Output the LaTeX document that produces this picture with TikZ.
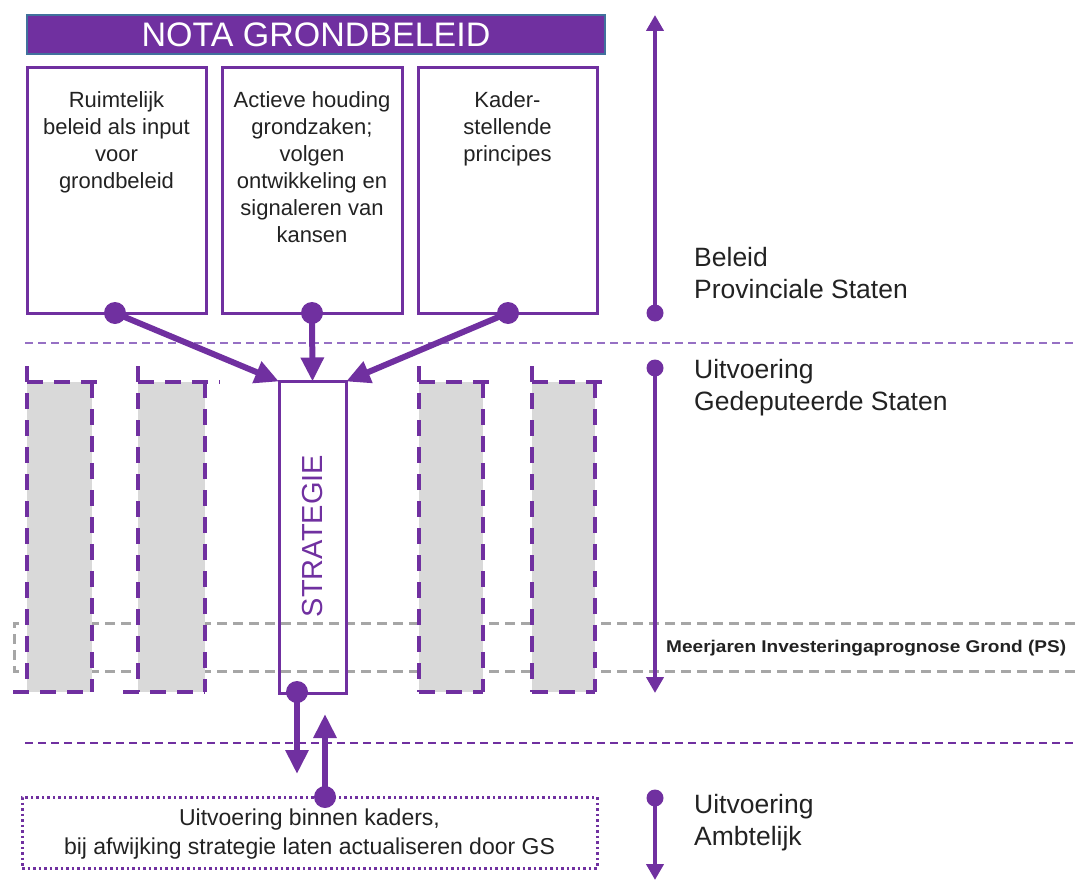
\documentclass[tikz,border=0pt]{standalone}
\usepackage{fontspec}
\setmainfont{Liberation Sans}
\usetikzlibrary{arrows.meta}
\definecolor{pur}{HTML}{7030A0}
\definecolor{lpur}{HTML}{9670C4}
\definecolor{gfill}{HTML}{D9D9D9}
\definecolor{gline}{HTML}{A6A6A6}
\definecolor{tborder}{HTML}{41719C}
\definecolor{ink}{HTML}{222222}

\begin{document}
\begin{tikzpicture}[x=1pt,y=-1pt,
  pbox/.style={draw=pur, line width=3pt, inner sep=0pt, outer sep=0pt},
  boxtxt/.style={font=\fontsize{22}{27}\selectfont, align=center, text=ink, inner sep=0pt},
  sidetxt/.style={font=\fontsize{26.5}{32}\selectfont, align=left, text=ink, inner sep=0pt, anchor=north west},
  bigdot/.style={circle, fill=pur, inner sep=0pt, minimum size=22pt},
  smalldot/.style={circle, fill=pur, inner sep=0pt, minimum size=17pt},
  thick arrow/.style={draw=pur, line width=6pt, -{Triangle[length=24pt,width=22pt]}},
  axis arrow/.style={draw=pur, line width=4pt, -{Triangle[length=16pt,width=17pt]}},
  coldash/.style={draw=pur, line width=3.5pt, dash pattern=on 16pt off 11pt},
  sepline/.style={line width=2pt, dash pattern=on 8pt off 5pt},
  mipline/.style={draw=gline, line width=3pt, dash pattern=on 10pt off 6pt},
]
\useasboundingbox (0,0) rectangle (1075,880);

% horizontal separators between the levels
\draw[sepline, draw=lpur] (25,343) -- (1075,343);
\draw[sepline, draw=pur] (25,743) -- (1075,743);

% Meerjaren Investeringaprognose band
\draw[mipline] (1075,623) -- (14,623) -- (14,671) -- (1075,671);
\node[font=\bfseries\fontsize{17}{20}\selectfont, text=ink, anchor=west, inner sep=0pt, xscale=1.12] (mip) at (666,648) {Meerjaren Investeringaprognose Grond (PS)};

% project columns
\foreach \xl/\xr/\ext/\bl in {27/92/108/13, 138/205/220/123, 419/483/499/419, 532/595/611/532}{
  \fill[gfill] (\xl,382) rectangle (\xr,692);
  \draw[coldash] (\xl,366) -- (\xl,692);
  \draw[coldash] (\xl,382) -- (\ext,382);
  \draw[coldash] (\xr,382) -- (\xr,692);
  \draw[coldash] (\bl,692) -- (\xr,692);
}

% title bar
\node[fill=pur, draw=tborder, line width=1.5pt, minimum width=578pt, minimum height=39pt, inner sep=0pt,
      text=white, font=\fontsize{34}{34}\selectfont] (title) at (316,34.5) {NOTA GRONDBELEID};

% the three policy boxes
\node[pbox, minimum width=179pt, minimum height=245pt] (b1) at (116.5,190.5) {};
\node[pbox, minimum width=180pt, minimum height=245pt] (b2) at (312,190.5) {};
\node[pbox, minimum width=179pt, minimum height=245pt] (b3) at (507.5,190.5) {};
\node[boxtxt, anchor=north] (t1) at (116.5,91) {Ruimtelijk\\beleid als input\\voor\\grondbeleid};
\node[boxtxt, anchor=north] (t2) at (312,91) {Actieve houding\\grondzaken;\\volgen\\ontwikkeling en\\signaleren van\\kansen};
\node[boxtxt, anchor=north] (t3) at (507.5,91) {Kader-\\stellende\\principes};

% strategy column
\node[pbox, minimum width=67pt, minimum height=312pt] (strat) at (312.5,537.5) {};
\node[rotate=90, text=pur, font=\fontsize{29}{29}\selectfont, inner sep=0pt] (stratlbl) at (313,536) {STRATEGIE};

% policy feeds strategy
\node[bigdot] (d1) at (115,313) {};
\node[bigdot] (d2) at (312,313) {};
\node[bigdot] (d3) at (508,313) {};
\draw[thick arrow] (d1.center) -- (strat.north west);
\draw[thick arrow] (d2.center) -- (strat.north);
\draw[thick arrow] (d3.center) -- (strat.north east);

% execution box
\node[draw=pur, line width=3pt, dash pattern=on 2.5pt off 3pt, minimum width=575pt, minimum height=71pt, inner sep=0pt] (ub) at (309.5,832.5) {};
\node[font=\fontsize{23}{29}\selectfont, align=center, text=ink, inner sep=0pt] (ubt) at (309.5,834) {Uitvoering binnen kaders,\\bij afwijking strategie laten actualiseren door GS};

% strategy <-> execution
\node[bigdot] (d4) at (297,692) {};
\coordinate (d4e) at (297,774);
\draw[thick arrow] (d4.center) -- (d4e);
\node[bigdot] (d5) at (325,797) {};
\coordinate (d5e) at (325,714);
\draw[thick arrow] (d5.center) -- (d5e);

% level axis on the right
\node[smalldot] (a1) at (655,313) {};
\coordinate (a1e) at (655,15);
\draw[axis arrow] (a1.center) -- (a1e);
\node[smalldot] (a2) at (655,368) {};
\coordinate (a2e) at (655,693);
\draw[axis arrow] (a2.center) -- (a2e);
\node[smalldot] (a3) at (655,798) {};
\coordinate (a3e) at (655,880);
\draw[axis arrow] (a3.center) -- (a3e);

\node[sidetxt] (l1) at (694,247) {Beleid\\Provinciale Staten};
\node[sidetxt] (l2) at (694,359) {Uitvoering\\Gedeputeerde Staten};
\node[sidetxt] (l3) at (694,794) {Uitvoering\\Ambtelijk};
\end{tikzpicture}
\end{document}
